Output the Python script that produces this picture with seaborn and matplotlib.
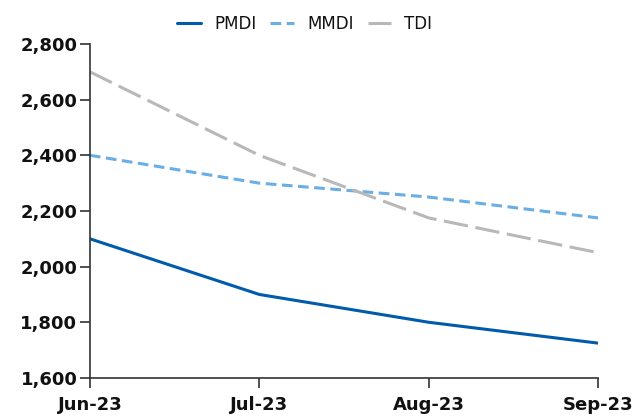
import matplotlib.pyplot as plt
import seaborn as sns
import pandas as pd
from matplotlib.ticker import FuncFormatter

months = ['Jun-23', 'Jul-23', 'Aug-23', 'Sep-23']
pmdi = [2100, 1900, 1800, 1725]
mmdi = [2400, 2300, 2250, 2175]
tdi = [2700, 2400, 2175, 2050]

df = pd.DataFrame({'month': months * 3,
                   'value': pmdi + mmdi + tdi,
                   'series': ['PMDI'] * 4 + ['MMDI'] * 4 + ['TDI'] * 4})

sns.set_style('ticks')
plt.rcParams['font.family'] = ['DejaVu Sans']

fig, ax = plt.subplots(figsize=(6.33, 4.19), dpi=100)
fig.subplots_adjust(left=0.142, right=0.945, top=0.895, bottom=0.098)

palette = {'PMDI': '#005bac', 'MMDI': '#6aaee4', 'TDI': '#b8b8b8'}
dashes = {'PMDI': '', 'MMDI': (3.5, 1.8), 'TDI': (8, 2.5)}
sns.lineplot(data=df, x='month', y='value', hue='series', style='series',
             palette=palette, dashes=dashes, sort=False, linewidth=2.2, ax=ax)

ax.set_xlim(0, 3)
ax.set_ylim(1600, 2800)
ax.set_yticks(range(1600, 2801, 200))
ax.yaxis.set_major_formatter(FuncFormatter(lambda v, p: f'{int(v):,}'))
ax.set_xlabel('')
ax.set_ylabel('')
sns.despine(ax=ax)
for s in ['left', 'bottom']:
    ax.spines[s].set_color('#333333')
    ax.spines[s].set_linewidth(1.2)
ax.tick_params(axis='both', length=7, width=1.2, color='#333333',
               labelsize=13, labelcolor='#111111')
ax.tick_params(axis='y', pad=2)
ax.tick_params(axis='x', pad=6)
for t in ax.get_xticklabels() + ax.get_yticklabels():
    t.set_fontweight('bold')

handles, labels = ax.get_legend_handles_labels()
leg = ax.legend(handles, labels, loc='center', bbox_to_anchor=(0.423, 1.06),
                ncol=3, frameon=False, fontsize=12, handlelength=1.4,
                columnspacing=0.85, handletextpad=0.8, borderaxespad=0)
for t in leg.get_texts():
    t.set_color('#111111')

fig.savefig('out.png', dpi=100)
